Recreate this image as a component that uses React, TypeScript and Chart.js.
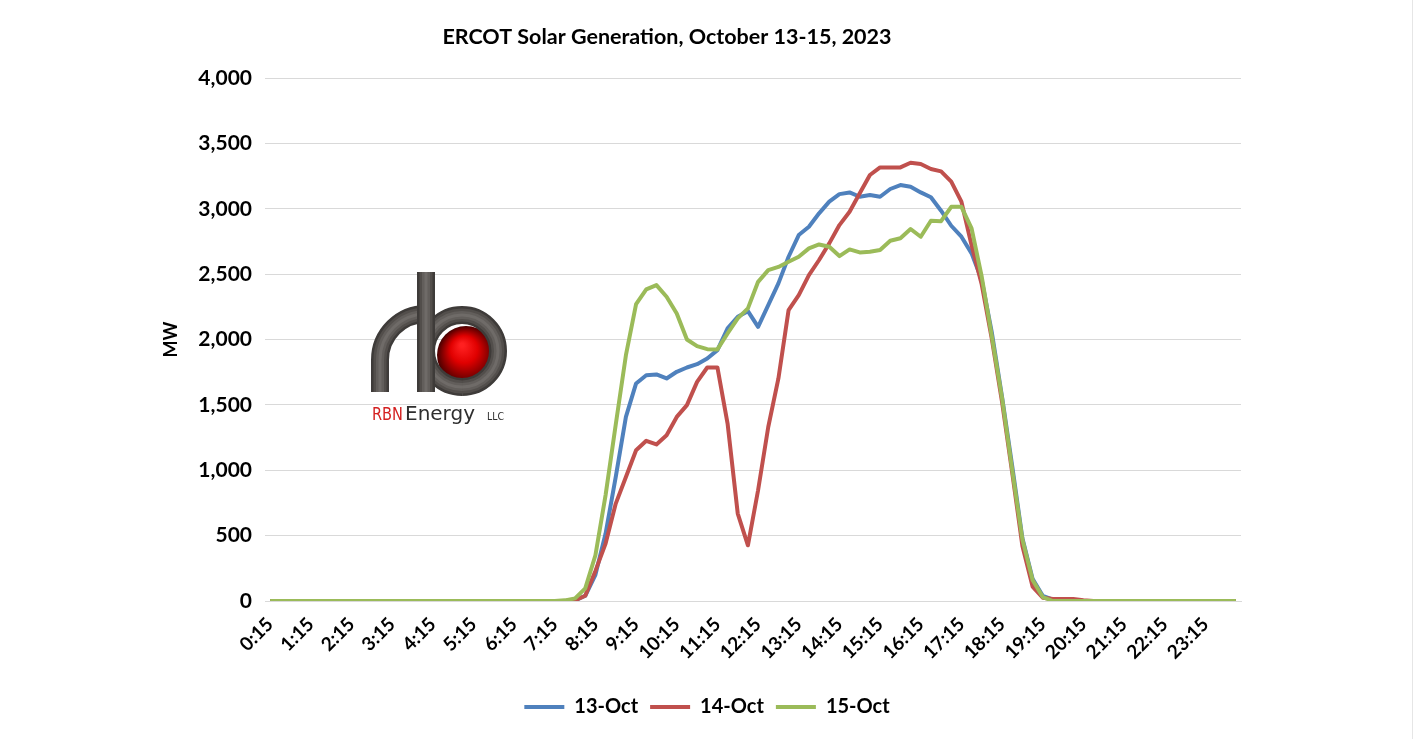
import React, { useEffect, useRef } from "react";
import { Chart, registerables } from "chart.js";

Chart.register(...registerables);

// 15-minute intervals, 0:15 .. 24:00
const timeLabels: string[] = [];
for (let i = 1; i <= 96; i++) {
  const m = i * 15;
  timeLabels.push(`${Math.floor(m / 60)}:${String(m % 60).padStart(2, "0")}`);
}

const seriesNames = ["13-Oct", "14-Oct", "15-Oct"];
const seriesColors = ["#4F81BD", "#C0504D", "#9BBB59"];

const zeros28 = [0, 0, 0, 0, 0, 0, 0, 0, 0, 0, 0, 0, 0, 0, 0, 0, 0, 0, 0, 0, 0, 0, 0, 0, 0, 0, 0, 0];

const oct13: number[] = [
  ...zeros28,
  0, 0, 5, 40, 200, 516, 949, 1408, 1664, 1727, 1733, 1702, 1753, 1786, 1811, 1855,
  1919, 2085, 2174, 2217, 2097, 2263, 2429, 2633, 2799, 2862, 2965, 3054, 3112, 3125, 3092, 3105,
  3092, 3151, 3181, 3168, 3125, 3088, 2985, 2870, 2786, 2659, 2454, 2050, 1560, 1030, 480, 170,
  40, 10, 0, 0, 0, 0, 0, 0, 0, 0, 0, 0, 0, 0, 0, 0,
  0, 0, 0, 0,
];

const oct14: number[] = [
  ...zeros28,
  0, 0, 5, 40, 230, 439, 745, 949, 1153, 1225, 1197, 1268, 1408, 1498, 1676, 1786,
  1786, 1357, 669, 426, 847, 1331, 1702, 2225, 2340, 2493, 2608, 2735, 2875, 2977, 3118, 3258,
  3316, 3316, 3316, 3352, 3342, 3304, 3286, 3207, 3054, 2720, 2420, 2000, 1520, 980, 420, 110,
  25, 15, 15, 15, 5, 0, 0, 0, 0, 0, 0, 0, 0, 0, 0, 0,
  0, 0, 0, 0,
];

const oct15: number[] = [
  ...zeros28,
  0, 5, 20, 97, 350, 810, 1350, 1880, 2270, 2383, 2416, 2327, 2199, 2000, 1949, 1926,
  1924, 2046, 2161, 2238, 2441, 2531, 2555, 2594, 2633, 2697, 2727, 2709, 2638, 2689, 2666, 2671,
  2684, 2755, 2774, 2845, 2786, 2908, 2905, 3015, 3015, 2850, 2480, 2020, 1550, 1000, 470, 160,
  30, 0, 0, 0, 0, 0, 0, 0, 0, 0, 0, 0, 0, 0, 0, 0,
  0, 0, 0, 0,
];

const seriesValues = [oct13, oct14, oct15];

const chartTitle = "ERCOT Solar Generation, October 13-15, 2023";
const yAxisTitle = "MW";
const yMin = 0;
const yMax = 4000;
const yStep = 500;

const FONT = "Lato, 'Open Sans', 'Liberation Sans', sans-serif";

const titlePlugin = {
  id: "customTitle",
  afterDraw(chart: any) {
    const ctx = chart.ctx as CanvasRenderingContext2D;
    ctx.save();
    ctx.font = `bold 21.5px ${FONT}`;
    ctx.fillStyle = "#000000";
    ctx.textAlign = "center";
    ctx.textBaseline = "middle";
    ctx.fillText(chartTitle, 667, 37);
    ctx.restore();
  },
};

const logoPlugin = {
  id: "rbnLogo",
  beforeDatasetsDraw(chart: any) {
    const ctx = chart.ctx as CanvasRenderingContext2D;
    ctx.save();
    ctx.lineCap = "butt";
    const pipe = (draw: () => void) => {
      const layers: [string, number][] = [
        ["#3e3b39", 18],
        ["#524e4b", 13],
        ["#625e5b", 8],
        ["#6f6b68", 3],
      ];
      for (const [c, w] of layers) {
        ctx.strokeStyle = c;
        ctx.lineWidth = w;
        ctx.beginPath();
        draw();
        ctx.stroke();
      }
    };
    // red sphere
    const g = ctx.createRadialGradient(462, 345, 2, 467, 356, 31);
    g.addColorStop(0, "#ff2020");
    g.addColorStop(0.4, "#e00000");
    g.addColorStop(1, "#3a0000");
    ctx.fillStyle = g;
    ctx.beginPath();
    ctx.arc(466, 355, 29, 0, Math.PI * 2);
    ctx.fill();
    // "r" stem and arch
    pipe(() => {
      ctx.moveTo(380, 392);
      ctx.lineTo(380, 360);
      ctx.arc(426, 360, 46, Math.PI, Math.PI * 1.5);
    });
    // "b" loop
    pipe(() => {
      ctx.arc(462, 351, 36, Math.PI * 0.5, Math.PI * 2.5);
    });
    // "b" stem
    pipe(() => {
      ctx.moveTo(426, 272);
      ctx.lineTo(426, 392);
    });
    // text
    ctx.textBaseline = "alphabetic";
    ctx.textAlign = "left";
    ctx.font = `18px 'DejaVu Sans', sans-serif`;
    ctx.fillStyle = "#d42020";
    ctx.fillText("RBN", 372, 420, 31);
    ctx.font = `20px 'DejaVu Sans', sans-serif`;
    ctx.fillStyle = "#2e2e2e";
    ctx.fillText("Energy", 405, 420, 78);
    ctx.font = `10px 'DejaVu Sans', sans-serif`;
    ctx.fillText("LLC", 487, 420, 17);
    ctx.restore();
  },
};

export default function App() {
  const ref = useRef<HTMLCanvasElement | null>(null);

  useEffect(() => {
    document.body.style.margin = "0";
    const canvas = ref.current;
    if (!canvas) return;
    const chart = new Chart(canvas, {
      type: "line",
      data: {
        labels: timeLabels,
        datasets: seriesNames.map((name, i) => ({
          label: name,
          data: seriesValues[i],
          borderColor: seriesColors[i],
          backgroundColor: seriesColors[i],
          borderWidth: 4,
          pointRadius: 0,
          pointHoverRadius: 0,
          tension: 0,
          fill: false,
          borderJoinStyle: "round" as const,
          order: 3 - i,
          yAxisID: "y",
        })),
      },
      options: {
        responsive: false,
        animation: false,
        events: [],
        layout: { padding: { left: 0, right: 0, top: 78, bottom: 12 } },
        plugins: {
          title: { display: false },
          legend: {
            display: true,
            position: "bottom",
            labels: {
              color: "#000000",
              font: { family: FONT, size: 20, weight: "bold" },
              boxWidth: 40,
              boxHeight: 4,
              padding: 12,
              generateLabels: (ch: any) =>
                ch.data.datasets.map((ds: any, i: number) => ({
                  text: ds.label,
                  fillStyle: ds.borderColor,
                  strokeStyle: ds.borderColor,
                  lineWidth: 0,
                  hidden: false,
                  datasetIndex: i,
                  fontColor: "#000000",
                })),
            },
          },
          tooltip: { enabled: false },
        },
        scales: {
          x: {
            type: "category",
            offset: true,
            grid: { display: false, drawTicks: false },
            border: { display: true, color: "#d9d9d9", width: 1 },
            ticks: {
              autoSkip: false,
              minRotation: 45,
              maxRotation: 45,
              padding: 12,
              color: "#000000",
              font: { family: FONT, size: 19, weight: "bold" },
              callback: (_v: any, idx: number) => (idx % 4 === 0 ? timeLabels[idx] : ""),
            },
            afterFit: (scale: any) => {
              scale.height = 84;
            },
          },
          y: {
            position: "left",
            min: yMin,
            max: yMax,
            grid: { color: "#d9d9d9", lineWidth: 1, drawTicks: false },
            border: { display: false },
            ticks: {
              stepSize: yStep,
              padding: 13,
              color: "#000000",
              font: { family: FONT, size: 21, weight: "bold" },
              callback: (v: any) => Number(v).toLocaleString("en-US"),
            },
            title: {
              display: true,
              text: yAxisTitle,
              color: "#000000",
              font: { family: FONT, size: 18, weight: "bold" },
              padding: { top: 160, bottom: 0 },
            },
            afterFit: (scale: any) => {
              scale.width = 265;
            },
          },
          ySpacer: {
            type: "linear",
            position: "right",
            display: true,
            min: 0,
            max: 1,
            grid: { display: false, drawTicks: false },
            border: { display: false },
            ticks: { display: false },
            afterFit: (scale: any) => {
              scale.width = 173;
            },
          },
        },
      },
      plugins: [logoPlugin, titlePlugin],
    });
    return () => chart.destroy();
  }, []);

  return (
    <div
      style={{
        position: "fixed",
        left: 0,
        top: 0,
        width: 1414,
        height: 739,
        background: "#ffffff",
      }}
    >
      <canvas ref={ref} width={1414} height={739} style={{ display: "block" }} />
      <div
        style={{
          position: "absolute",
          left: 1412,
          top: 0,
          width: 1,
          height: 739,
          background: "#e6e6e6",
        }}
      />
    </div>
  );
}
